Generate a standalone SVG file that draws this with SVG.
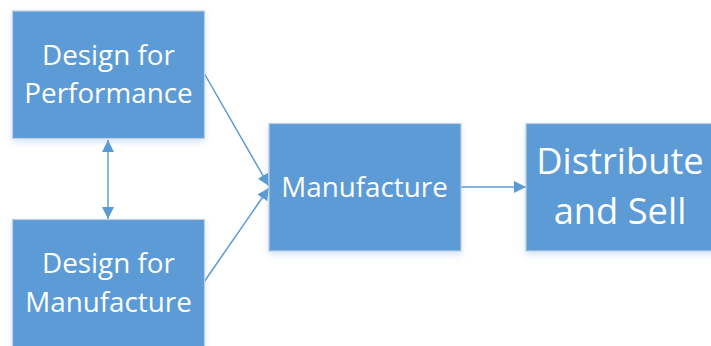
<svg xmlns="http://www.w3.org/2000/svg" width="711" height="346" viewBox="0 0 711 346">
<style>
.box{fill:#5B9BD5;stroke:#BFCFE0;stroke-width:1.2}
.t{fill:#fff;font-family:"Open Sans","Noto Sans",sans-serif;text-anchor:middle}
.s{font-size:27.8px}
.b{font-size:36.3px}
.c{stroke:#5B9BD5;stroke-width:1.5;fill:none}
</style>
<defs>
<marker id="ah" viewBox="0 0 12 12" refX="12" refY="6" markerWidth="12" markerHeight="12" markerUnits="userSpaceOnUse" orient="auto-start-reverse">
<path d="M0,0 L12,6 L0,12 Z" fill="#5B9BD5"/>
</marker>
<filter id="sh" x="-10%" y="-10%" width="120%" height="130%">
<feDropShadow dx="0" dy="3" stdDeviation="3" flood-color="#5B9BD5" flood-opacity="0.25"/>
</filter>
</defs>
<g id="connectors">
<line class="c" x1="108" y1="140" x2="108" y2="219" marker-start="url(#ah)" marker-end="url(#ah)"/>
<line class="c" x1="204" y1="73" x2="269" y2="186" marker-end="url(#ah)"/>
<line class="c" x1="204" y1="282" x2="269" y2="188" marker-end="url(#ah)"/>
<line class="c" x1="461" y1="187" x2="526" y2="187" marker-end="url(#ah)"/>
</g>
<g id="perf">
<rect class="box" filter="url(#sh)" x="12.5" y="11" width="192" height="127.5"/>
<text class="t s" x="108.5" y="65">Design for</text>
<text class="t s" x="108.5" y="103">Performance</text>
</g>
<g id="manu-design">
<rect class="box" filter="url(#sh)" x="12.5" y="219.5" width="192" height="128"/>
<text class="t s" x="108.5" y="272.5">Design for</text>
<text class="t s" x="108.5" y="311.5">Manufacture</text>
</g>
<g id="manufacture">
<rect class="box" filter="url(#sh)" x="269" y="123.5" width="192" height="127.5"/>
<text class="t s" x="364.5" y="196.5">Manufacture</text>
</g>
<g id="distribute">
<rect class="box" filter="url(#sh)" x="526" y="123.5" width="192" height="127.5"/>
<text class="t b" x="620" y="174">Distribute</text>
<text class="t b" x="620" y="223.5">and Sell</text>
</g>
</svg>
